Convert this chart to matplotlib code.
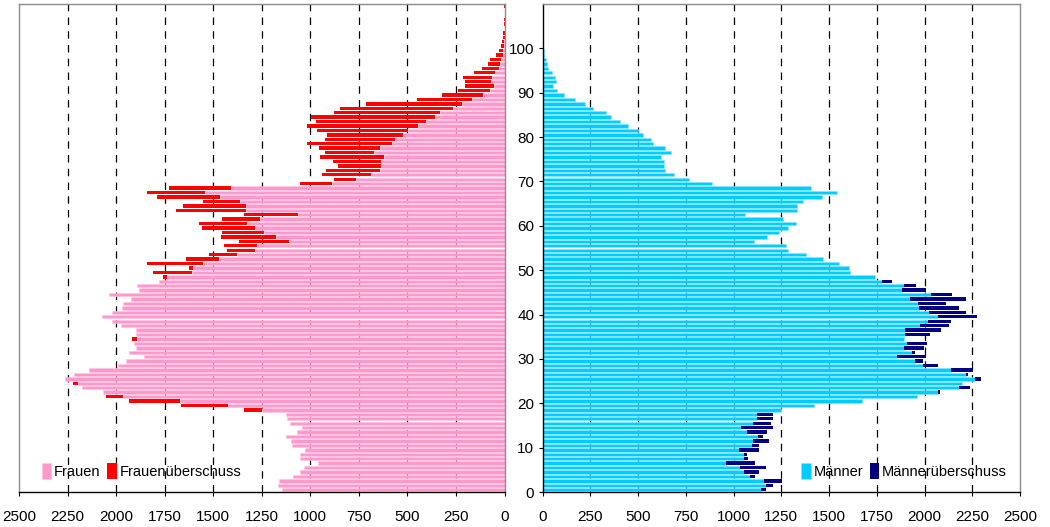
import numpy as np
import matplotlib.pyplot as plt

plt.rcParams['font.family'] = ['Liberation Sans Narrow', 'Liberation Sans', 'DejaVu Sans']

ages = np.arange(110)
frauen = [1144, 1168, 1161, 1087, 1053, 1032, 961, 1053, 1053, 1027,
          1095, 1099, 1126, 1068, 1041, 1104, 1121, 1125, 1343, 1667,
          1933, 2052, 2068, 2178, 2220, 2263, 2215, 2140, 1990, 1950,
          1856, 1936, 1895, 1907, 1918, 1899, 1897, 1975, 2020, 2072,
          2021, 1970, 1965, 1925, 2035, 1884, 1892, 1777, 1758, 1810,
          1623, 1841, 1640, 1520, 1427, 1444, 1365, 1461, 1454, 1556,
          1574, 1456, 1341, 1691, 1655, 1552, 1789, 1842, 1726, 1052,
          880, 942, 918, 858, 883, 950, 922, 953, 1015, 922,
          915, 963, 1015, 970, 996, 877, 845, 713, 451, 323,
          237, 201, 204, 215, 156, 117, 86, 77, 45, 27,
          19, 14, 8, 6, 0, 5, 5, 0, 0, 4]
maenner = [1172, 1205, 1251, 1112, 1134, 1170, 1114, 1077, 1072, 1131,
           1131, 1184, 1153, 1177, 1205, 1196, 1208, 1207, 1248, 1422,
           1670, 1963, 2080, 2238, 2195, 2295, 2226, 2255, 2069, 1992,
           2007, 1951, 1999, 2012, 1890, 2030, 2087, 2126, 2138, 2275,
           2215, 2183, 2113, 2216, 2145, 2007, 1953, 1832, 1740, 1608,
           1604, 1553, 1470, 1378, 1285, 1275, 1108, 1177, 1239, 1285,
           1327, 1257, 1062, 1330, 1332, 1364, 1464, 1543, 1407, 888,
           764, 690, 640, 636, 636, 620, 670, 643, 580, 565,
           523, 497, 447, 406, 358, 333, 264, 219, 169, 113,
           77, 54, 70, 62, 50, 29, 22, 17, 8, 7,
           3, 2, 0, 0, 0, 0, 0, 0, 0, 0]

x_ticks = list(range(0, 2501, 250))
y_ticks = list(range(0, 101, 10))

f = np.array(frauen)
m = np.array(maenner)
common = np.minimum(f, m)
f_plus = np.clip(f - m, 0, None)
m_plus = np.clip(m - f, 0, None)
y = ages + 0.5
h = 0.76

fig = plt.figure(figsize=(10.5, 5.27), dpi=100)
axl = fig.add_axes([19 / 1050, 35 / 527, 485.5 / 1050, 488 / 527])
axr = fig.add_axes([542.7 / 1050, 35 / 527, 477.3 / 1050, 488 / 527])

axl.barh(y, common, height=h, color='#FF99CC', edgecolor='#FFC4E2', linewidth=0.4, label='Frauen')
axl.barh(y, f_plus, left=common, height=h, color='#FF0000', linewidth=0, label='Frauenüberschuss')
axr.barh(y, common, height=h, color='#00CCFF', edgecolor='#8AE6FF', linewidth=0.4, label='Männer')
axr.barh(y, m_plus, left=common, height=h, color='#000080', linewidth=0, label='Männerüberschuss')

leg_opts = dict(frameon=False, ncol=2, fontsize=10.5, handlelength=0.65, handleheight=1.3,
                handletextpad=0.2, columnspacing=0.45, borderaxespad=0.5)

for ax in (axl, axr):
    ax.set_ylim(0, 110)
    ax.set_xticks(x_ticks)
    ax.set_axisbelow(True)
    for v in x_ticks[1:-1]:
        ax.axvline(v, color='black', linewidth=0.9, dashes=(6, 5), zorder=0)
    for s in ax.spines.values():
        s.set_color('#8c8c8c')
        s.set_linewidth(1.0)
    ax.spines['bottom'].set_color('black')
    ax.tick_params(axis='x', direction='out', length=3, color='black', labelsize=11, pad=10)

axl.set_xlim(2500, 0)
axl.set_yticks([])
axl.legend(loc='lower left', bbox_to_anchor=(0.02, 0.0), **leg_opts)

axr.set_xlim(0, 2500)
axr.set_yticks(y_ticks)
axr.spines['left'].set_color('black')
axr.tick_params(axis='y', direction='out', length=3, color='black', labelsize=11, pad=3)
axr.legend(loc='lower right', bbox_to_anchor=(1.0, 0.0), **leg_opts)

fig.savefig('out.png', dpi=100)
